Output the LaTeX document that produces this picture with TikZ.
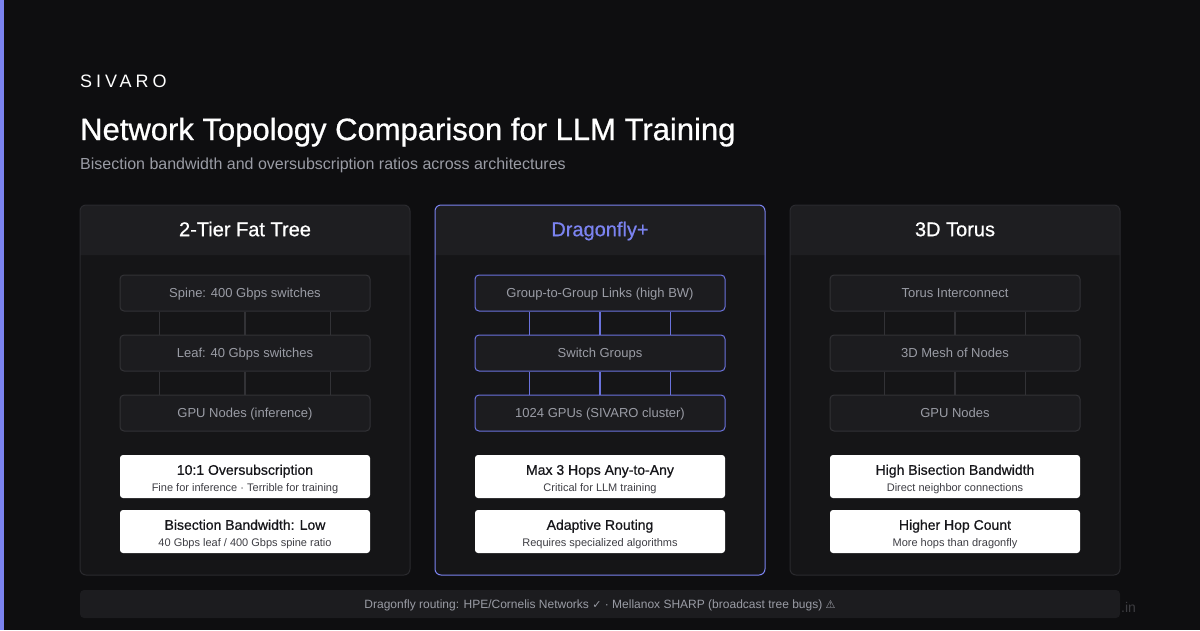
\documentclass[tikz,border=0pt]{standalone}
\usepackage{fontspec}
\setmainfont{Liberation Sans}
\newfontfamily\symfont{DejaVu Sans}
\newfontfamily\medfont[FakeBold=0.7]{Liberation Sans}
\newfontfamily\logofont[LetterSpace=22]{Liberation Sans}
\usetikzlibrary{calc}

\definecolor{bgdark}{HTML}{0E0E10}
\definecolor{accent}{HTML}{7B83F0}
\definecolor{accentline}{HTML}{6A72DC}
\definecolor{headfill}{HTML}{1E1E21}
\definecolor{bodyfill}{HTML}{151517}
\definecolor{panelline}{HTML}{2A2A2E}
\definecolor{boxfill}{HTML}{1C1C1F}
\definecolor{boxline}{HTML}{323236}
\definecolor{greytxt}{HTML}{9A9CA5}
\definecolor{cardtxt}{HTML}{16161A}
\definecolor{cardsub}{HTML}{3E3E44}
\definecolor{marktxt}{HTML}{3C3C40}

\tikzset{
  headtxt/.style={text=white, font=\medfont\fontsize{20}{24}\selectfont, text height=14.4pt, text depth=0pt, inner sep=0pt},
  tierbox/.style={draw=boxline, fill=boxfill, rounded corners=4pt, line width=1pt,
    minimum width=250pt, minimum height=36pt, inner sep=0pt, text=greytxt,
    font=\fontsize{13}{15}\selectfont, text height=9.4pt, text depth=0pt},
  dfbox/.style={tierbox, draw=accentline},
  link/.style={draw=boxline, line width=1.5pt},
  dflink/.style={draw=accentline, line width=1.5pt},
  card/.style={fill=white, rounded corners=3pt, minimum width=250pt, minimum height=43pt, inner sep=0pt},
  cardhead/.style={text=cardtxt, font=\medfont\fontsize{14}{16}\selectfont, text height=10pt, text depth=0pt, inner sep=0pt},
  cardsub/.style={text=cardsub, font=\fontsize{11}{13}\selectfont, text height=7.9pt, text depth=0pt, inner sep=0pt},
}

\begin{document}
\begin{tikzpicture}[x=1pt,y=-1pt]
  \useasboundingbox (0,0) rectangle (1200,630);
  \fill[bgdark] (0,0) rectangle (1200,630);
  \fill[accent] (0,0) rectangle (4,630);

  % heading
  \node[anchor=west, text=white, font=\logofont\fontsize{18}{20}\selectfont, text height=12.9pt, text depth=0pt, inner sep=0pt] (logo) at (80,81) {SIVARO};
  \node[anchor=west, text=white, font=\medfont\fontsize{31}{36}\selectfont, text height=22.2pt, text depth=0pt, inner sep=0pt] (title) at (80,129) {Network Topology Comparison for LLM Training};
  \node[anchor=west, text=greytxt, font=\fontsize{16}{18}\selectfont, text height=11.5pt, text depth=0pt, inner sep=0pt] (subtitle) at (80,164) {Bisection bandwidth and oversubscription ratios across architectures};

  % panels
  \foreach \x/\edge in {80/panelline, 435/accent, 790/panelline} {
    \fill[bodyfill, rounded corners=6pt] (\x,205) rectangle (\x+330,575);
    \fill[headfill] (\x,255) [rounded corners=6pt] -- (\x,205) -- (\x+330,205) [sharp corners] -- (\x+330,255) -- cycle;
    \draw[\edge, line width=1pt, rounded corners=6pt] (\x,205) rectangle (\x+330,575);
  }

  % 2-tier fat tree
  \node[headtxt] (ft) at (245,229) {2-Tier Fat Tree};
  \node[tierbox] (ft1) at (245,293) {Spine: 400 Gbps switches};
  \node[tierbox] (ft2) at (245,353) {Leaf: 40 Gbps switches};
  \node[tierbox] (ft3) at (245,413) {GPU Nodes (inference)};
  \foreach \f in {0.16,0.5,0.84} {
    \draw[link] ($(ft1.south west)!\f!(ft1.south east)$) -- ($(ft2.north west)!\f!(ft2.north east)$);
    \draw[link] ($(ft2.south west)!\f!(ft2.south east)$) -- ($(ft3.north west)!\f!(ft3.north east)$);
  }
  \node[card] (ftc1) at (245,476.5) {};
  \node[cardhead] at ($(ftc1.north)+(0,15)$) {10:1 Oversubscription};
  \node[cardsub] at ($(ftc1.north)+(0,33)$) {Fine for inference · Terrible for training};
  \node[card] (ftc2) at (245,531.5) {};
  \node[cardhead] at ($(ftc2.north)+(0,15)$) {Bisection Bandwidth: Low};
  \node[cardsub] at ($(ftc2.north)+(0,33)$) {40 Gbps leaf / 400 Gbps spine ratio};

  % dragonfly+
  \node[headtxt, text=accent] (df) at (600,229) {Dragonfly+};
  \node[dfbox] (df1) at (600,293) {Group-to-Group Links (high BW)};
  \node[dfbox] (df2) at (600,353) {Switch Groups};
  \node[dfbox] (df3) at (600,413) {1024 GPUs (SIVARO cluster)};
  \foreach \f in {0.22,0.5,0.78} {
    \draw[dflink] ($(df1.south west)!\f!(df1.south east)$) -- ($(df2.north west)!\f!(df2.north east)$);
    \draw[dflink] ($(df2.south west)!\f!(df2.south east)$) -- ($(df3.north west)!\f!(df3.north east)$);
  }
  \node[card] (dfc1) at (600,476.5) {};
  \node[cardhead] at ($(dfc1.north)+(0,15)$) {Max 3 Hops Any-to-Any};
  \node[cardsub] at ($(dfc1.north)+(0,33)$) {Critical for LLM training};
  \node[card] (dfc2) at (600,531.5) {};
  \node[cardhead] at ($(dfc2.north)+(0,15)$) {Adaptive Routing};
  \node[cardsub] at ($(dfc2.north)+(0,33)$) {Requires specialized algorithms};

  % 3d torus
  \node[headtxt] (tr) at (955,229) {3D Torus};
  \node[tierbox] (tr1) at (955,293) {Torus Interconnect};
  \node[tierbox] (tr2) at (955,353) {3D Mesh of Nodes};
  \node[tierbox] (tr3) at (955,413) {GPU Nodes};
  \foreach \f in {0.22,0.5,0.78} {
    \draw[link] ($(tr1.south west)!\f!(tr1.south east)$) -- ($(tr2.north west)!\f!(tr2.north east)$);
    \draw[link] ($(tr2.south west)!\f!(tr2.south east)$) -- ($(tr3.north west)!\f!(tr3.north east)$);
  }
  \node[card] (trc1) at (955,476.5) {};
  \node[cardhead] at ($(trc1.north)+(0,15)$) {High Bisection Bandwidth};
  \node[cardsub] at ($(trc1.north)+(0,33)$) {Direct neighbor connections};
  \node[card] (trc2) at (955,531.5) {};
  \node[cardhead] at ($(trc2.north)+(0,15)$) {Higher Hop Count};
  \node[cardsub] at ($(trc2.north)+(0,33)$) {More hops than dragonfly};

  % footer
  \node[fill=boxfill, rounded corners=4pt, minimum width=1040pt, minimum height=28pt, inner sep=0pt,
    text=greytxt, font=\fontsize{12}{14}\selectfont, text height=8.6pt, text depth=0pt] (foot) at (600,604)
    {Dragonfly routing: HPE/Cornelis Networks {\symfont\fontsize{11}{12}\selectfont ✓} · Mellanox SHARP (broadcast tree bugs) {\symfont\fontsize{11}{12}\selectfont ⚠}};
  \node[anchor=west, text=marktxt, font=\fontsize{14}{16}\selectfont, text height=10pt, text depth=0pt, inner sep=0pt] (mark) at (1121,607) {.in};
\end{tikzpicture}
\end{document}
